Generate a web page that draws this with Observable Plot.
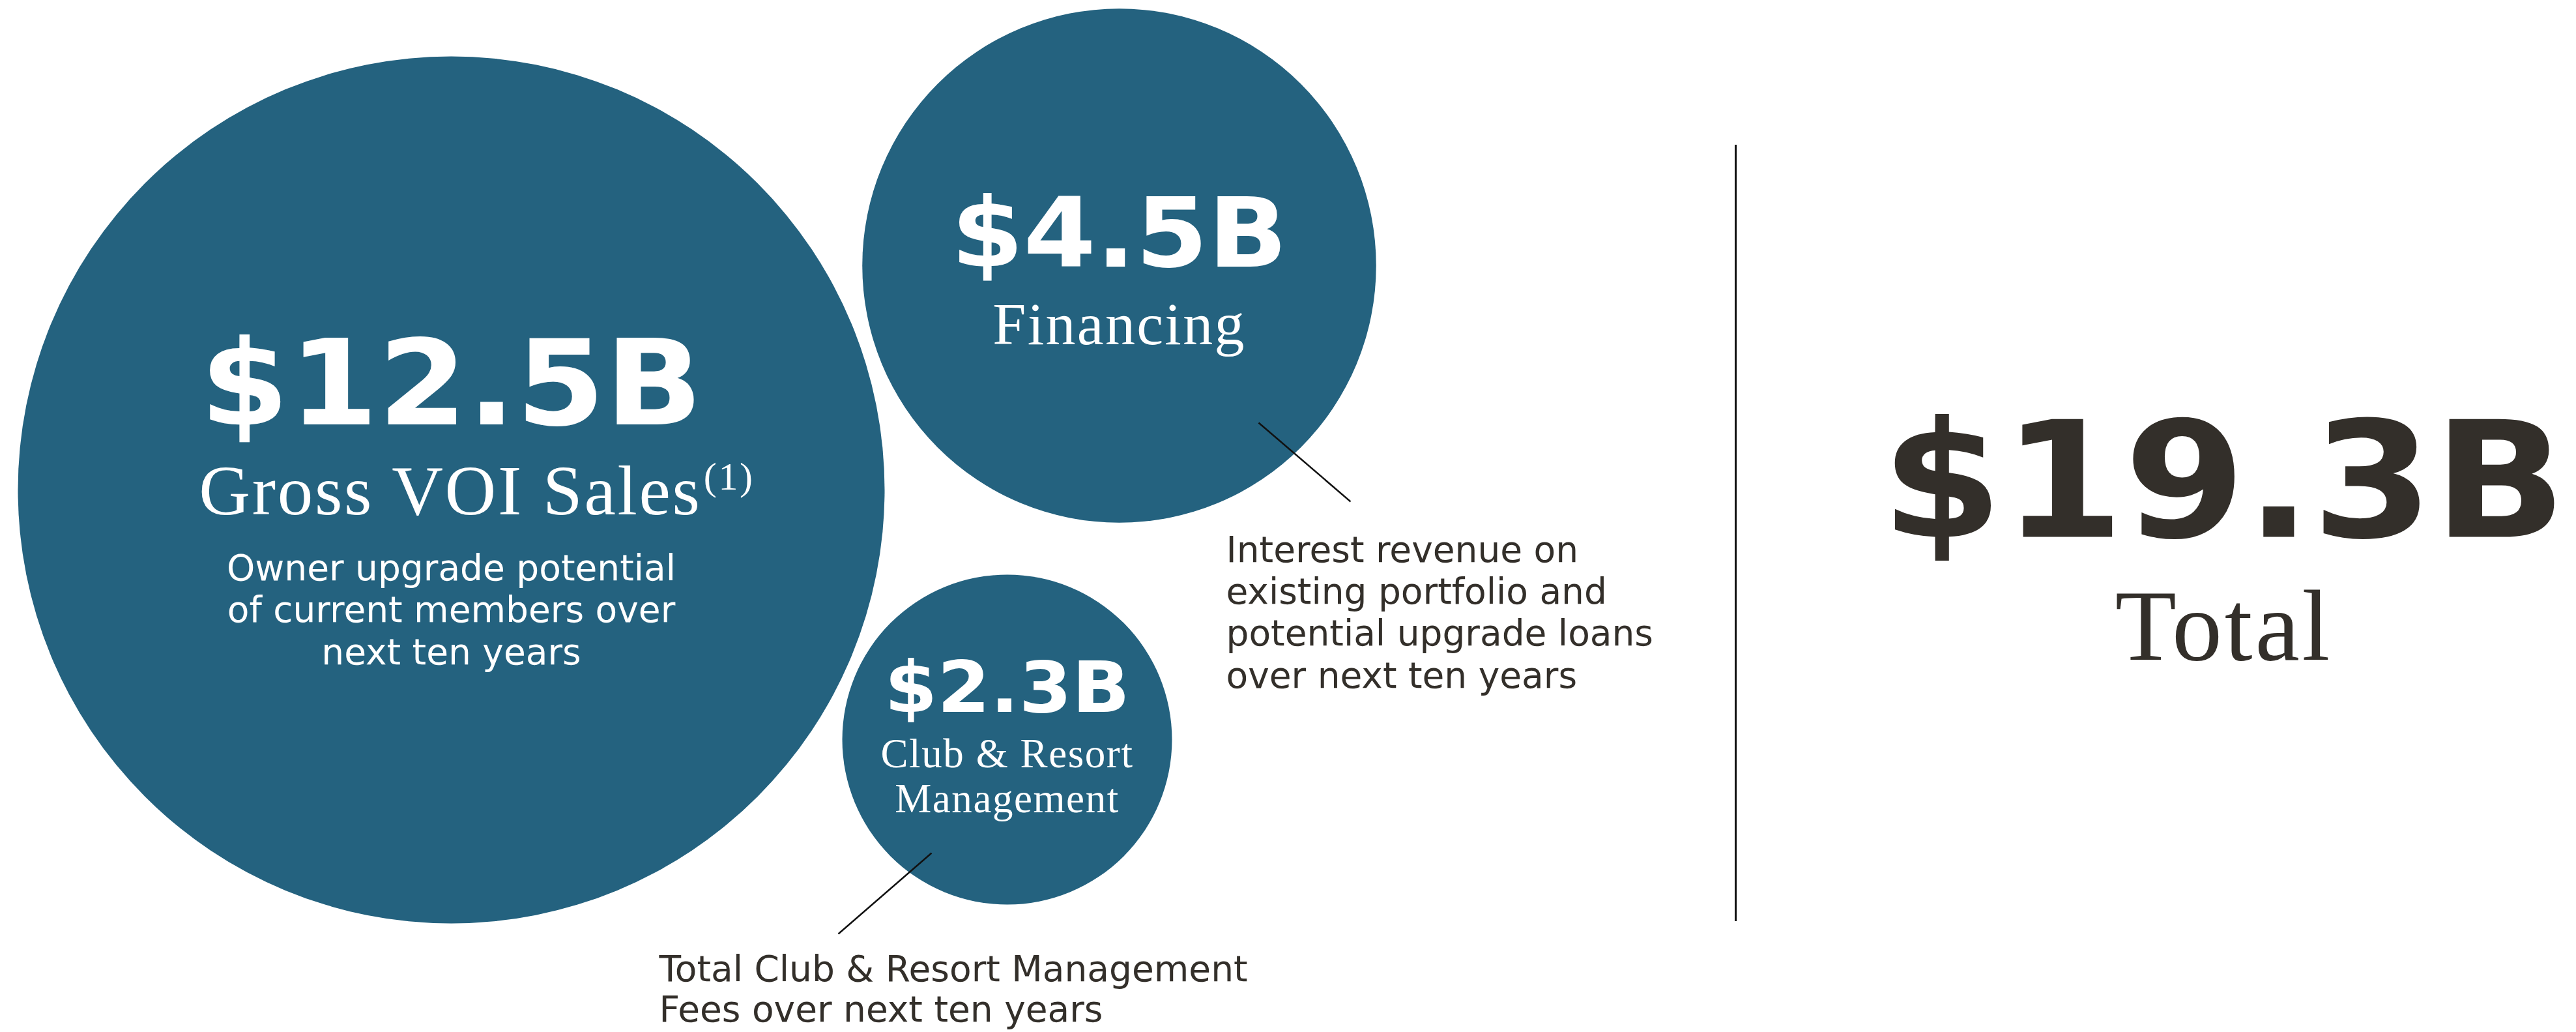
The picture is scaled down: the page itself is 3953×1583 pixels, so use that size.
<!DOCTYPE html>
<html>
<head>
<meta charset="utf-8">
<script src="https://cdn.jsdelivr.net/npm/d3@7"></script>
<script src="https://cdn.jsdelivr.net/npm/@observablehq/plot@0.6"></script>
<style>
  html, body { margin: 0; padding: 0; background: #ffffff; }
  #chart svg { display: block; }
  g[font-family*="Serif"] text { letter-spacing: 0.025em; }
</style>
</head>
<body>
<div id="chart"></div>
<script>
// ---------- DATA ----------
const categories = ["Gross VOI Sales", "Financing", "Club & Resort\nManagement"];
const values = [12.5, 4.5, 2.3];               // $ billions
const footnotes = ["(1)", "", ""];
const descriptions = [
  "Owner upgrade potential\nof current members over\nnext ten years",
  "Interest revenue on\nexisting portfolio and\npotential upgrade loans\nover next ten years",
  "Total Club & Resort Management\nFees over next ten years"
];
const totalValues = [19.3];
const totalLabels = ["Total"];

// ---------- LAYOUT (positions / sizes, pixels) ----------
const layout = [
  {cx: 692,  cy: 751,  valueY: 650,  valueSize: 182, labelY: 788,  labelSize: 109, labelLH: 1.1,
   descX: 692,  descY: 1018, descLH: 1.164, descInside: true},
  {cx: 1717, cy: 407,  valueY: 408,  valueSize: 148, labelY: 527,  labelSize: 92,  labelLH: 1.1,
   descX: 1881, descY: 1054, descLH: 1.164, descInside: false},
  {cx: 1545, cy: 1134, valueY: 1091, valueSize: 108, labelY: 1245, labelSize: 63,  labelLH: 1.095,
   descX: 1011, descY: 1566, descLH: 1.12, descInside: false}
];
const totalLayout = {x: 3412, valueY: 823, valueSize: 248, labelY: 1011, labelSize: 154};
const leaders = [
  {x1: 1931, y1: 648,  x2: 2072, y2: 769},
  {x1: 1429, y1: 1308, x2: 1286, y2: 1432}
];
const divider = [{x: 2663, y1: 222, y2: 1413}];

const W = 3953, H = 1583;
const BLUE = "#24627f";
const DARK = "#332f2a";
const fmt = v => `$${d3.format(".1f")(v)}B`;

const bubbles = categories.map((category, i) => ({
  category, value: values[i], valueText: fmt(values[i]),
  footnote: footnotes[i], description: descriptions[i], ...layout[i]
}));
const totals = totalValues.map((v, i) => ({value: v, valueText: fmt(v), label: totalLabels[i], ...totalLayout}));
const valueTexts = new Set([...bubbles.map(d => d.valueText), ...totals.map(d => d.valueText)]);

const descMark = (data, fill, anchor) => data.map(d => Plot.text([d], {
  x: "descX", y: "descY", text: "description", fontSize: 55, lineHeight: d.descLH,
  fontFamily: "DejaVu Sans", fill, textAnchor: anchor, lineAnchor: "bottom"
}));

const chart = Plot.plot({
  width: W,
  height: H,
  margin: 0,
  style: {background: "#ffffff"},
  x: {type: "linear", domain: [0, W], range: [0, W], axis: null},
  y: {type: "linear", domain: [0, H], range: [0, H], axis: null},
  r: {type: "pow", exponent: 0.27, domain: [2.3, 12.5], range: [253, 665]},
  marks: [
    Plot.dot(bubbles, {x: "cx", y: "cy", r: "value", fill: BLUE, stroke: "none"}),
    Plot.link(leaders, {x1: "x1", y1: "y1", x2: "x2", y2: "y2", stroke: "#111111", strokeWidth: 2.5}),
    Plot.ruleX(divider, {x: "x", y1: "y1", y2: "y2", stroke: "#111111", strokeWidth: 3}),
    // bubble values
    Plot.text(bubbles, {x: "cx", y: "valueY", text: "valueText", fontSize: d => d.valueSize,
      fontFamily: "DejaVu Sans", fontWeight: "bold", fill: "#ffffff", textAnchor: "middle", lineAnchor: "bottom"}),
    // bubble category labels
    ...bubbles.map(d => Plot.text([d], {x: "cx", y: "labelY", text: "category", fontSize: d.labelSize,
      lineHeight: d.labelLH, fontFamily: "Liberation Serif", fill: "#ffffff", textAnchor: "middle", lineAnchor: "bottom"})),
    // descriptions
    ...descMark(bubbles.filter(d => d.descInside), "#ffffff", "middle"),
    ...descMark(bubbles.filter(d => !d.descInside), DARK, "start"),
    // total
    Plot.text(totals, {x: "x", y: "valueY", text: "valueText", fontSize: d => d.valueSize,
      fontFamily: "DejaVu Sans", fontWeight: "bold", fill: DARK, textAnchor: "middle", lineAnchor: "bottom"}),
    Plot.text(totals, {x: "x", y: "labelY", text: "label", fontSize: d => d.labelSize,
      fontFamily: "Liberation Serif", fill: DARK, textAnchor: "middle", lineAnchor: "bottom"})
  ]
});

document.getElementById("chart").append(chart);

// widen the heavy value figures to the extended look of the original
for (const el of chart.querySelectorAll("text")) {
  if (valueTexts.has(el.textContent)) {
    const len = el.getComputedTextLength();
    if (len > 0) {
      el.setAttribute("textLength", (len * 1.08).toFixed(1));
      el.setAttribute("lengthAdjust", "spacingAndGlyphs");
    }
  }
}
// superscript footnote markers
for (const el of chart.querySelectorAll("text")) {
  const b = bubbles.find(d => d.footnote && d.category === el.textContent);
  if (b) {
    const t = document.createElementNS("http://www.w3.org/2000/svg", "tspan");
    t.setAttribute("font-size", "0.55em");
    t.setAttribute("dy", "-0.63em");
    t.setAttribute("dx", "0.05em");
    t.textContent = b.footnote;
    el.appendChild(t);
    const supW = t.getComputedTextLength();
    el.setAttribute("x", (supW / 2).toFixed(1));
  }
}
</script>
</body>
</html>
